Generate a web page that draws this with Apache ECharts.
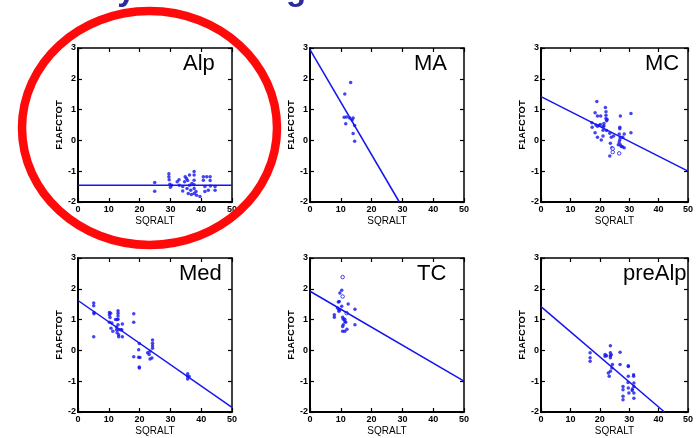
<!DOCTYPE html>
<html>
<head>
<meta charset="utf-8">
<script src="https://cdn.jsdelivr.net/npm/echarts@6/dist/echarts.min.js"></script>
<style>
  html, body { margin: 0; padding: 0; background: #fff; }
  #main { width: 696px; height: 438px; }
</style>
</head>
<body>
<div id="main"></div>
<script>
// panel names, in reading order
const panelNames = ['Alp', 'MA', 'MC', 'Med', 'TC', 'preAlp']

// tick labels
const xTicks = [0, 10, 20, 30, 40, 50]
const yTicks = [-2, -1, 0, 1, 2, 3]

// points: [SQRALT, F1AFCTOT]
const alpPoints = [
  [24.9, -1.37], [24.9, -1.65],
  [29.5, -1.08], [29.5, -1.18], [29.6, -1.28], [29.8, -1.42], [30.0, -1.52], [30.4, -1.46],
  [32.2, -1.34], [32.8, -1.28], [32.9, -1.46],
  [34.0, -1.50], [34.0, -1.64], [34.6, -1.34], [34.8, -1.18], [35.2, -1.24], [35.4, -1.56],
  [35.6, -1.30], [35.8, -1.72], [36.2, -1.12], [36.2, -1.46], [36.6, -1.62], [36.8, -1.76], [37.0, -1.40],
  [37.7, -1.01], [37.7, -1.12], [37.7, -1.29], [37.7, -1.44], [37.7, -1.56], [37.7, -1.72],
  [38.3, -1.66], [38.5, -1.78], [39.6, -1.82],
  [40.7, -1.18], [40.7, -1.29], [41.2, -1.50], [41.2, -1.66], [41.8, -1.18], [42.3, -1.62],
  [42.9, -1.18], [42.9, -1.30], [43.0, -1.48], [44.5, -1.50], [44.5, -1.62]
]
const maPoints = [
  [13.2, 1.88], [11.3, 1.51], [11.1, 0.75], [11.9, 0.76], [11.6, 0.54], [12.9, 0.73],
  [14.0, 0.73], [13.7, 0.66], [14.5, 0.48], [14.0, 0.22], [14.5, -0.03]
]
const mcPoints = [
  [19.0, 1.26], [18.4, 0.90], [17.3, 0.57], [17.4, 0.43], [18.7, 0.50], [19.2, 0.79], [20.3, 0.79],
  [19.2, 0.46], [19.7, 0.48], [20.2, 0.52], [18.4, 0.25], [19.2, 0.10], [20.5, 0.01],
  [21.1, 0.44], [21.1, 0.33], [21.1, 0.14], [21.4, 0.55], [21.4, 0.47],
  [21.9, 1.07], [22.1, 0.93], [22.1, 0.82], [22.1, 0.71], [22.3, 0.64], [22.5, 0.68], [22.3, 0.32],
  [23.4, 0.23], [23.9, 0.10], [23.6, -0.09], [24.1, -0.24], [23.4, -0.51], [24.7, 0.14],
  [26.6, 0.21], [26.8, 0.43], [26.8, 0.38], [27.0, 0.10], [26.8, 0.02], [26.6, -0.05],
  [26.3, -0.14], [27.0, -0.14], [27.3, -0.20], [27.0, 0.79], [27.8, 0.10], [27.7, -0.21],
  [28.3, -0.24], [28.3, 0.21], [30.6, 0.87], [30.6, 0.25]
]
const mcOpen = [[24.4, -0.38], [24.4, -0.27], [26.6, -0.42]]
const medPoints = [
  [5.1, 1.54], [5.1, 1.45], [5.2, 1.23], [5.2, 1.19], [5.1, 0.44],
  [10.2, 1.23], [10.2, 1.15], [10.4, 1.07], [10.6, 1.21], [10.2, 0.91], [11.0, 0.89],
  [12.2, 1.00], [12.7, 1.00], [12.5, 0.76], [12.5, 0.67], [12.7, 0.57], [11.3, 0.62], [10.7, 0.72],
  [13.0, 1.29], [13.0, 1.21], [13.0, 1.12], [13.0, 1.01], [13.0, 0.83], [13.2, 0.67], [13.2, 0.51], [13.2, 0.44],
  [13.9, 0.67], [14.2, 0.67], [14.4, 0.86], [14.4, 0.44],
  [18.1, 1.19], [18.1, 0.91], [18.1, -0.21],
  [19.9, 0.22], [19.7, 0.02], [19.7, -0.22], [20.1, -0.23], [19.9, -0.54], [19.9, -0.57],
  [22.6, -0.08], [23.1, -0.13], [23.4, -0.03], [23.4, -0.28], [24.0, -0.25],
  [24.2, 0.34], [24.2, 0.23], [24.2, 0.15], [24.2, 0.07],
  [35.6, -0.76], [35.6, -0.85], [35.6, -0.93], [36.1, -0.85]
]
const tcPoints = [
  [10.3, 1.95], [9.7, 1.86], [9.5, 1.59], [9.2, 1.57], [12.4, 1.51], [10.3, 1.43],
  [8.9, 1.38], [9.4, 1.32], [9.7, 1.32], [9.4, 1.27], [7.9, 1.16], [7.9, 1.08],
  [10.6, 1.08], [10.8, 1.01], [11.3, 1.01], [11.3, 0.94], [11.6, 0.91],
  [10.8, 0.83], [10.6, 0.78], [12.0, 0.69], [11.3, 0.62], [10.6, 0.62],
  [14.6, 1.34], [14.6, 0.83]
]
const tcOpen = [[10.6, 2.38], [10.6, 1.75], [11.9, 1.21]]
const preAlpPoints = [
  [16.7, -0.08], [16.7, -0.24], [16.7, -0.35],
  [21.8, -0.13], [21.8, -0.19], [22.3, -0.17],
  [23.6, 0.15], [23.6, -0.08], [23.6, -0.17], [23.6, -0.24], [23.9, -0.14],
  [22.9, -0.73], [23.2, -0.84], [23.6, -0.68], [24.1, -0.57], [24.3, -0.46],
  [26.9, -0.06], [26.9, -0.46],
  [29.7, -0.50], [29.7, -0.52], [29.7, -0.84], [29.6, -1.04], [29.7, -1.22], [29.9, -1.38],
  [27.9, -1.17], [27.9, -1.28], [27.9, -1.49], [27.9, -1.60],
  [31.5, -0.79], [31.5, -0.84], [31.6, -1.06], [31.6, -1.17], [31.6, -1.38], [31.6, -1.55],
  [31.1, -1.25], [31.0, -1.30]
]

// fitted lines, endpoints
const alpFit = [[0, -1.46], [50, -1.46]]
const maFit = [[0, 2.95], [29, -2]]
const mcFit = [[0, 1.42], [50, -1.0]]
const medFit = [[0, 1.62], [50, -1.85]]
const tcFit = [[0, 1.92], [50, -1.0]]
const preAlpFit = [[0, 1.42], [42, -2]]

const panelPoints = [alpPoints, maPoints, mcPoints, medPoints, tcPoints, preAlpPoints]
const panelOpen = [[], [], mcOpen, [], tcOpen, []]
const panelFits = [alpFit, maFit, mcFit, medFit, tcFit, preAlpFit]

const gridLeft = [78, 310, 541]
const gridTop = [48, 258]
const titleLeft = [183, 414, 645, 179, 417, 623]
const blue = '#1414f0'

const grid = [], xAxis = [], yAxis = [], series = [], title = []

panelNames.forEach((name, i) => {
    const col = i % 3
    const row = Math.floor(i / 3)
    grid.push({ left: gridLeft[col], top: gridTop[row], width: 154, height: 154 })

    const tick = { show: true, inside: true, length: 4, lineStyle: { color: '#000', width: 1.2 } }
    xAxis.push({
        gridIndex: i, type: 'value', position: 'bottom',
        min: xTicks[0], max: xTicks[xTicks.length - 1], interval: 10,
        axisLine: { show: true, onZero: false, lineStyle: { color: '#000', width: 2 } },
        axisTick: tick,
        axisLabel: { color: '#000', fontSize: 9, fontWeight: 'bold', margin: 3, fontFamily: 'Liberation Sans' },
        splitLine: { show: false },
        name: 'SQRALT', nameLocation: 'middle', nameGap: 14,
        nameTextStyle: { color: '#000', fontSize: 10, fontFamily: 'Liberation Sans' }
    })
    xAxis.push({
        gridIndex: i, type: 'value', position: 'top',
        min: xTicks[0], max: xTicks[xTicks.length - 1], interval: 10,
        axisLine: { show: true, onZero: false, lineStyle: { color: '#000', width: 1.5 } },
        axisTick: tick,
        axisLabel: { show: false },
        splitLine: { show: false }
    })
    yAxis.push({
        gridIndex: i, type: 'value', position: 'left',
        min: yTicks[0], max: yTicks[yTicks.length - 1], interval: 1,
        axisLine: { show: true, onZero: false, lineStyle: { color: '#000', width: 2 } },
        axisTick: tick,
        axisLabel: { color: '#000', fontSize: 9, fontWeight: 'bold', margin: 2, fontFamily: 'Liberation Sans' },
        splitLine: { show: false },
        name: 'F1AFCTOT', nameLocation: 'middle', nameGap: 14,
        nameTextStyle: { color: '#000', fontSize: 9.5, fontWeight: 'bold', fontFamily: 'Liberation Sans' }
    })
    yAxis.push({
        gridIndex: i, type: 'value', position: 'right',
        min: yTicks[0], max: yTicks[yTicks.length - 1], interval: 1,
        axisLine: { show: true, onZero: false, lineStyle: { color: '#000', width: 1.5 } },
        axisTick: tick,
        axisLabel: { show: false },
        splitLine: { show: false }
    })

    series.push({
        type: 'scatter', xAxisIndex: 2 * i, yAxisIndex: 2 * i,
        symbolSize: 3.5, itemStyle: { color: blue },
        data: panelPoints[i]
    })
    series.push({
        type: 'scatter', xAxisIndex: 2 * i, yAxisIndex: 2 * i,
        symbolSize: 3.5, itemStyle: { color: '#fff', borderColor: blue, borderWidth: 1 },
        data: panelOpen[i]
    })
    series.push({
        type: 'line', xAxisIndex: 2 * i, yAxisIndex: 2 * i,
        showSymbol: false, symbol: 'none',
        lineStyle: { color: blue, width: 1.5 },
        data: panelFits[i]
    })

    title.push({
        text: name, left: titleLeft[i], top: gridTop[row] + 5, padding: 0,
        textStyle: { color: '#000', fontSize: 22, fontWeight: 'normal', fontFamily: 'Liberation Sans' }
    })
})

const option = {
    animation: false,
    backgroundColor: '#fff',
    title,
    grid,
    xAxis,
    yAxis,
    series,
    graphic: [
        {
            // slide heading, cut by the top edge of the picture
            type: 'text', x: 44, y: 7, z: 10,
            style: {
                text: 'Study of the Region',
                font: 'bold 33px "Liberation Sans"',
                fill: '#2b2b99',
                textVerticalAlign: 'bottom'
            }
        },
        {
            type: 'ellipse', z: 100,
            shape: { cx: 149.5, cy: 128, rx: 127.5, ry: 117 },
            style: { fill: 'none', stroke: '#ff0a0a', lineWidth: 8.5 }
        }
    ]
}

const myChart = echarts.init(document.getElementById('main'))
myChart.setOption(option)
</script>
</body>
</html>
